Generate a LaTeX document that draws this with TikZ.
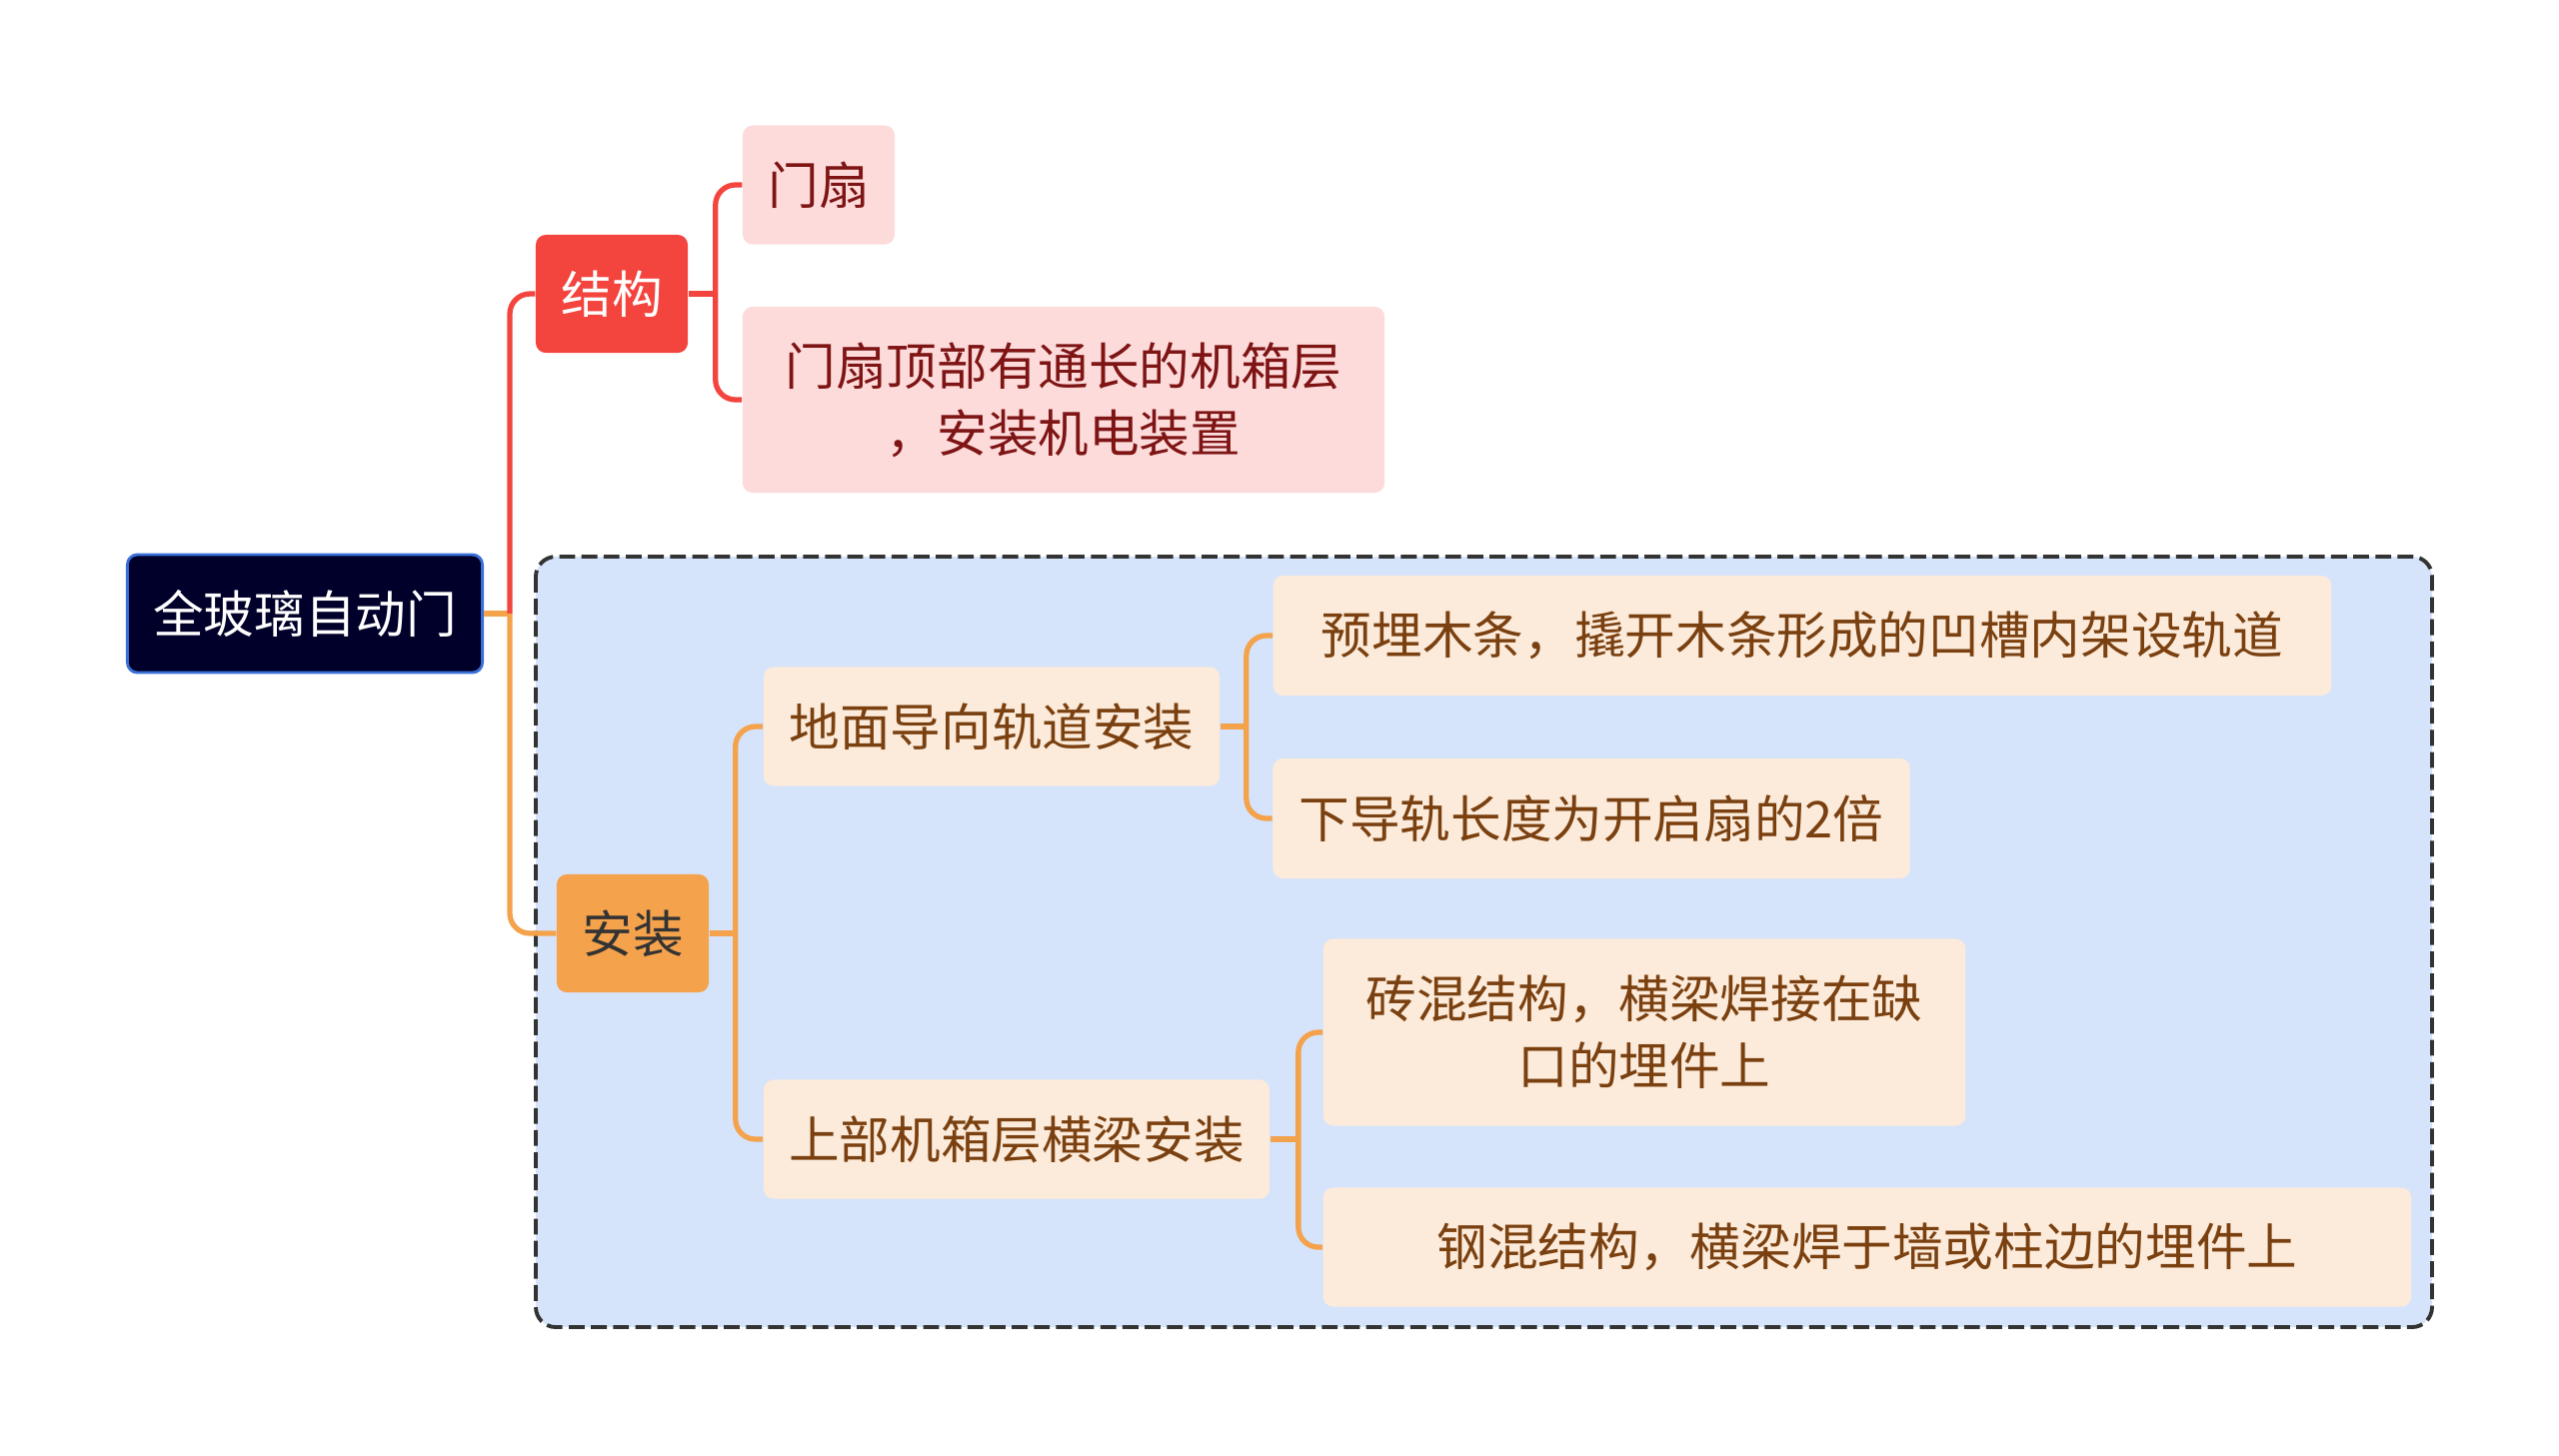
\documentclass[tikz,border=0pt]{standalone}
\usepackage{fontspec}
\setmainfont{Noto Sans CJK SC}
\usetikzlibrary{positioning,calc}

\definecolor{rootfill}{HTML}{00002A}
\definecolor{rootline}{HTML}{3A70D6}
\definecolor{redmain}{HTML}{F4443E}
\definecolor{redsub}{HTML}{FDDBDB}
\definecolor{redtext}{HTML}{7E1414}
\definecolor{orgmain}{HTML}{F4A24C}
\definecolor{orgsub}{HTML}{FCEBDA}
\definecolor{orgtext}{HTML}{7A4010}
\definecolor{boxfill}{HTML}{D5E4FB}

\begin{document}
\begin{tikzpicture}[
    x=0.01cm, y=-0.01cm,
    every node/.style={font=\fontsize{14.4}{19}\selectfont, align=center, inner sep=0pt},
    rootbox/.style={draw=rootline, line width=0.8pt, fill=rootfill, text=white, rounded corners=0.1cm, minimum width=3.55cm, minimum height=1.18cm},
    mainbox/.style={fill=#1main, rounded corners=0.1cm, minimum width=1.52cm, minimum height=1.18cm},
    subbox/.style={fill=#1sub, text=#1text, rounded corners=0.1cm},
    link/.style={draw=#1, line width=1.5pt, rounded corners=0.2cm}
]
\useasboundingbox (0,0) rectangle (2560,1456);

% Group frame
\draw[dashed, dash pattern=on 4.5pt off 1.8pt, line width=1.1pt, draw=black!80, fill=boxfill, rounded corners=0.2cm] (536,557) rectangle (2433,1328);

% Root
\node[rootbox] (root) at (305,614) {全玻璃自动门};

% Branch 1: structure
\node[mainbox=red, text=white] (jiegou) at (612,294) {结构};
\node[subbox=red, minimum width=1.52cm, minimum height=1.19cm] (menshan) at (819,185) {门扇};
\node[subbox=red, minimum width=6.42cm, minimum height=1.86cm] (jixiang) at (1064,400) {门扇顶部有通长的机箱层\\，安装机电装置};

% Branch 2: installation
\node[mainbox=org, text=black!80] (anzhuang) at (633,934) {安装};
\node[subbox=org, minimum width=4.56cm, minimum height=1.19cm] (guidao) at (992,727) {地面导向轨道安装};
\node[subbox=org, minimum width=5.06cm, minimum height=1.19cm] (shangbu) at (1017,1140) {上部机箱层横梁安装};
\node[subbox=org, minimum width=10.58cm, minimum height=1.2cm] (muti) at (1803,636) {预埋木条，撬开木条形成的凹槽内架设轨道};
\node[subbox=org, minimum width=6.37cm, minimum height=1.2cm] (daogui) at (1592,819) {下导轨长度为开启扇的2倍};
\node[subbox=org, minimum width=6.42cm, minimum height=1.87cm] (zhuanhun) at (1645,1033) {砖混结构，横梁焊接在缺\\口的埋件上};
\node[subbox=org, minimum width=10.88cm, minimum height=1.19cm] (ganghun) at (1868,1248) {钢混结构，横梁焊于墙或柱边的埋件上};

% Connectors
\draw[link=orgmain] (root.east) -- ++(26,0) coordinate (rootfork);
\draw[link=redmain] (rootfork) |- (jiegou.west);
\draw[link=orgmain] (rootfork) |- (anzhuang.west);

\draw[link=redmain] (jiegou.east) -- ++(27,0) coordinate (jgfork);
\draw[link=redmain] (jgfork) |- (menshan.west);
\draw[link=redmain] (jgfork) |- (jixiang.west);

\draw[link=orgmain] (anzhuang.east) -- ++(26,0) coordinate (azfork);
\draw[link=orgmain] (azfork) |- (guidao.west);
\draw[link=orgmain] (azfork) |- (shangbu.west);

\draw[link=orgmain] (guidao.east) -- ++(26,0) coordinate (gdfork);
\draw[link=orgmain] (gdfork) |- (muti.west);
\draw[link=orgmain] (gdfork) |- (daogui.west);

\draw[link=orgmain] (shangbu.east) -- ++(28,0) coordinate (sbfork);
\draw[link=orgmain] (sbfork) |- (zhuanhun.west);
\draw[link=orgmain] (sbfork) |- (ganghun.west);

\end{tikzpicture}
\end{document}
